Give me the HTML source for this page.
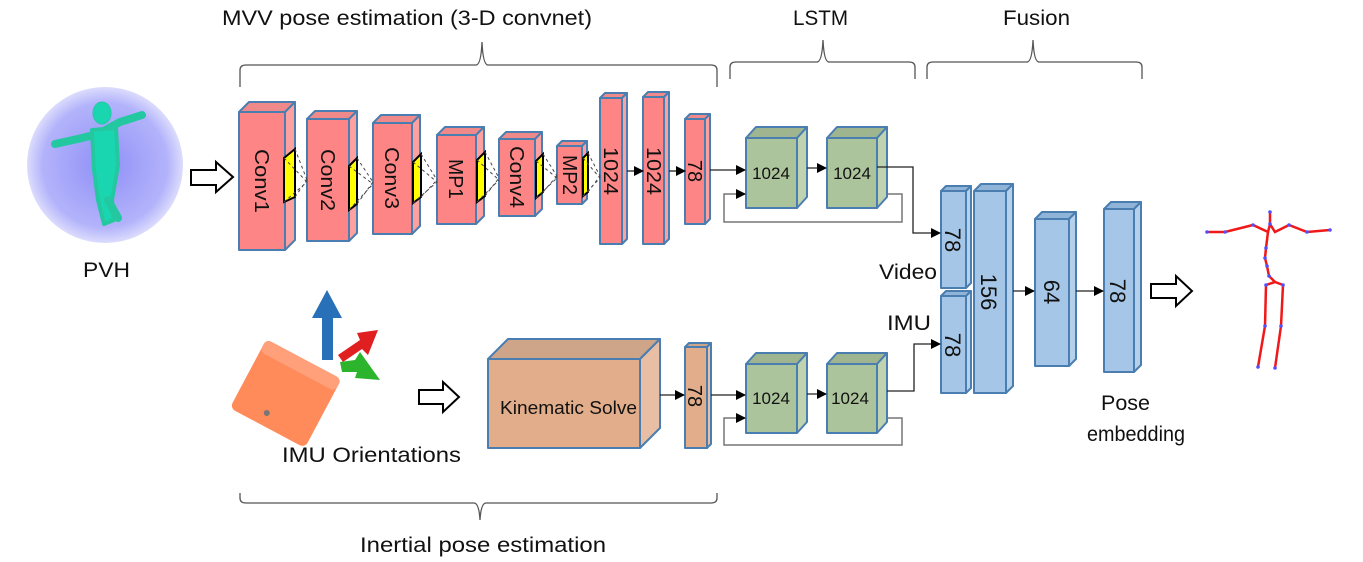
<!DOCTYPE html>
<html><head><meta charset="utf-8"><style>
html,body{margin:0;padding:0;background:#fff;}
svg{display:block;}
text{font-family:"Liberation Sans",sans-serif;fill:#111;}
</style></head><body>
<svg width="1363" height="562" viewBox="0 0 1363 562" xmlns="http://www.w3.org/2000/svg">
<defs>
<marker id="ar" markerWidth="10" markerHeight="10" refX="9" refY="5" orient="auto" markerUnits="userSpaceOnUse">
<path d="M0,0 L10,5 L0,10 z" fill="#000"/></marker>
<radialGradient id="pg" cx="50%" cy="50%" r="50%">
<stop offset="0" stop-color="#8f8ff7"/><stop offset="0.8" stop-color="#b3b3fb"/><stop offset="1" stop-color="#dcdcfd"/></radialGradient>
</defs>

<!-- titles -->
<text x="222" y="25" font-size="21" textLength="370" lengthAdjust="spacingAndGlyphs">MVV pose estimation (3-D convnet)</text>
<text x="793" y="25" font-size="21" textLength="55" lengthAdjust="spacingAndGlyphs">LSTM</text>
<text x="1003" y="25" font-size="21" textLength="67" lengthAdjust="spacingAndGlyphs">Fusion</text>
<text x="360" y="552" font-size="21" textLength="246" lengthAdjust="spacingAndGlyphs">Inertial pose estimation</text>

<!-- brackets -->
<g fill="none" stroke="#555" stroke-width="1.3">
<path d="M240,87 L240,70 Q240,65 246,65 L476,65 Q481,65 482,42 Q483,65 488,65 L711,65 Q717,65 717,70 L717,87"/>
<path d="M730,79 L730,67 Q730,62 736,62 L817,62 Q822,62 823,40 Q824,62 829,62 L909,62 Q915,62 915,67 L915,79"/>
<path d="M927,79 L927,67 Q927,62 933,62 L1027,62 Q1032,62 1033,40 Q1034,62 1039,62 L1136,62 Q1142,62 1142,67 L1142,79"/>
<path d="M240,493 L240,498 Q240,503 246,503 L474,503 Q479,503 480,520 Q481,503 486,503 L711,503 Q717,503 717,498 L717,493"/>
</g>

<!-- PVH -->
<circle cx="105" cy="165" r="78" fill="url(#pg)"/>
<g fill="#1ad6b0" stroke="#23c8a0" stroke-linecap="round" stroke-linejoin="round">
<path d="M55,144 L82,138 L98,134 L120,122 L142,115" fill="none" stroke-width="8"/>
<ellipse cx="102" cy="113" rx="9" ry="11"/>
<path d="M92,130 L116,128 L118,165 L112,200 L114,220 L104,224 L98,200 L94,170 Z" stroke-width="4"/>
<path d="M108,200 L118,218" fill="none" stroke-width="8"/>
</g>
<text x="83" y="277" font-size="21" textLength="47" lengthAdjust="spacingAndGlyphs">PVH</text>

<!-- hollow arrows -->
<g fill="#fff" stroke="#000" stroke-width="2">
<path d="M191,170 L216,170 L216,162 L233,177 L216,192 L216,185 L191,185 Z"/>
<path d="M419,390 L443,390 L443,382 L459,397 L443,412 L443,404 L419,404 Z"/>
<path d="M1151,284 L1176,284 L1176,276 L1192,291 L1176,306 L1176,298 L1151,298 Z"/>
</g>

<!-- IMU sensor -->
<g transform="rotate(28 285 400)">
<rect x="240" y="355" width="85" height="78" rx="6" fill="#ff8a5a"/>
<rect x="240" y="355" width="85" height="14" rx="5" fill="#ffa07a"/>
<circle cx="275" cy="420" r="3" fill="#777"/>
</g>
<polygon points="327,290 342,318 333,318 333,360 322,360 322,318 312,318" fill="#2870b8"/>
<polygon points="338,355 360,340 357,333 378,330 368,355 362,349 343,362" fill="#e02020"/>
<polygon points="340,362 355,360 360,352 380,380 355,378 357,372 342,372" fill="#2cb52c"/>
<text x="282" y="462" font-size="21" textLength="179" lengthAdjust="spacingAndGlyphs">IMU Orientations</text>

<g stroke="#4a7eb0" stroke-width="2" stroke-linejoin="round">
<g>
<polygon points="239,112 249,102 295,102 285,112" fill="#f08a8a"/><polygon points="285,112 295,102 295,240 285,250" fill="#fca0a0"/><rect x="239" y="112" width="46" height="138" fill="#fd8585"/>
<polygon points="307,119 315,111 357,111 349,119" fill="#f08a8a"/><polygon points="349,119 357,111 357,233 349,241" fill="#fca0a0"/><rect x="307" y="119" width="42" height="122" fill="#fd8585"/>
<polygon points="373,123 381,115 420,115 412,123" fill="#f08a8a"/><polygon points="412,123 420,115 420,226 412,234" fill="#fca0a0"/><rect x="373" y="123" width="39" height="111" fill="#fd8585"/>
<polygon points="437,135 445,127 484,127 476,135" fill="#f08a8a"/><polygon points="476,135 484,127 484,216 476,224" fill="#fca0a0"/><rect x="437" y="135" width="39" height="89" fill="#fd8585"/>
<polygon points="499,139 506,132 542,132 535,139" fill="#f08a8a"/><polygon points="535,139 542,132 542,209 535,216" fill="#fca0a0"/><rect x="499" y="139" width="36" height="77" fill="#fd8585"/>
<polygon points="557,146 562,141 587,141 582,146" fill="#f08a8a"/><polygon points="582,146 587,141 587,199 582,204" fill="#fca0a0"/><rect x="557" y="146" width="25" height="58" fill="#fd8585"/>
<polygon points="600,98 605,93 627,93 622,98" fill="#f08a8a"/><polygon points="622,98 627,93 627,239 622,244" fill="#fca0a0"/><rect x="600" y="98" width="22" height="146" fill="#fd8585"/>
<polygon points="643,97 648,92 669,92 664,97" fill="#f08a8a"/><polygon points="664,97 669,92 669,239 664,244" fill="#fca0a0"/><rect x="643" y="97" width="21" height="147" fill="#fd8585"/>
<polygon points="685,119 690,114 710,114 705,119" fill="#f08a8a"/><polygon points="705,119 710,114 710,219 705,224" fill="#fca0a0"/><rect x="685" y="119" width="20" height="105" fill="#fd8585"/>
</g>
<polygon points="488,359 508,339 660,339 640,359" fill="#cfa58a"/><polygon points="640,359 660,339 660,428 640,448" fill="#e8bea5"/><rect x="488" y="359" width="152" height="89" fill="#e2ad8a"/>
<polygon points="685,347 689,343 711,343 707,347" fill="#cfa58a"/><polygon points="707,347 711,343 711,444 707,448" fill="#e8bea5"/><rect x="685" y="347" width="22" height="101" fill="#e2ad8a"/>
<polygon points="746,138 756,127 807,127 797,138" fill="#9fb590"/><polygon points="797,138 807,127 807,197 797,208" fill="#bfd3b0"/><rect x="746" y="138" width="51" height="70" fill="#acc49b"/>
<polygon points="827,138 837,127 887,127 877,138" fill="#9fb590"/><polygon points="877,138 887,127 887,197 877,208" fill="#bfd3b0"/><rect x="827" y="138" width="50" height="70" fill="#acc49b"/>
<polygon points="746,364 756,353 807,353 797,364" fill="#9fb590"/><polygon points="797,364 807,353 807,422 797,433" fill="#bfd3b0"/><rect x="746" y="364" width="51" height="69" fill="#acc49b"/>
<polygon points="827,364 837,353 887,353 877,364" fill="#9fb590"/><polygon points="877,364 887,353 887,422 877,433" fill="#bfd3b0"/><rect x="827" y="364" width="50" height="69" fill="#acc49b"/>
<polygon points="941,191 946,186 971,186 966,191" fill="#8fb4d8"/><polygon points="966,191 971,186 971,283 966,288" fill="#b5d0ea"/><rect x="941" y="191" width="25" height="97" fill="#a5c6e6"/>
<polygon points="941,296 946,291 971,291 966,296" fill="#8fb4d8"/><polygon points="966,296 971,291 971,388 966,393" fill="#b5d0ea"/><rect x="941" y="296" width="25" height="97" fill="#a5c6e6"/>
<polygon points="974,191 981,184 1013,184 1006,191" fill="#8fb4d8"/><polygon points="1006,191 1013,184 1013,386 1006,393" fill="#b5d0ea"/><rect x="974" y="191" width="32" height="202" fill="#a5c6e6"/>
<polygon points="1035,219 1042,212 1076,212 1069,219" fill="#8fb4d8"/><polygon points="1069,219 1076,212 1076,359 1069,366" fill="#b5d0ea"/><rect x="1035" y="219" width="34" height="147" fill="#a5c6e6"/>
<polygon points="1104,209 1111,202 1141,202 1134,209" fill="#8fb4d8"/><polygon points="1134,209 1141,202 1141,365 1134,372" fill="#b5d0ea"/><rect x="1104" y="209" width="30" height="163" fill="#a5c6e6"/>
</g>

<g stroke="#000" stroke-width="2" fill="#ffff00">
<polygon points="284,158 295,149 295,197 284,202"/>
<polygon points="349,166 357,158 357,204 349,210"/>
<polygon points="413,162 421,154 421,197 413,203"/>
<polygon points="477,160 485,152 485,196 477,202"/>
<polygon points="536,161 543,154 543,192 536,198"/>
<polygon points="583,158 588,153 588,192 583,196"/>
</g>
<g stroke="#444" stroke-width="1" stroke-dasharray="3,3" fill="none">
<path d="M295,149 L307,180 M295,197 L307,180 M284,158 L307,182 M284,202 L307,182"/>
<path d="M357,158 L373,182 M357,204 L373,182 M349,166 L373,184 M349,210 L373,184"/>
<path d="M421,154 L437,180 M421,197 L437,180 M413,162 L437,182 M413,203 L437,182"/>
<path d="M485,152 L499,178 M485,196 L499,178 M477,160 L499,180 M477,202 L499,180"/>
<path d="M543,154 L557,176 M543,192 L557,176 M536,161 L557,178 M536,198 L557,178"/>
<path d="M588,153 L600,176 M588,192 L600,176 M583,158 L600,178 M583,196 L600,178"/>
</g>

<g stroke="#222" stroke-width="1.3" fill="none" marker-end="url(#ar)">
<path d="M627,171 L643,171"/>
<path d="M669,171 L685,171"/>
<path d="M710,170 L745,170"/>
<path d="M807,168 L826,168"/>
<path d="M877,167 L913,167 L913,233 L940,233"/>
<path d="M660,395 L684,395"/>
<path d="M711,395 L745,395"/>
<path d="M807,394 L826,394"/>
<path d="M887,391 L914,391 L914,344 L940,344"/>
<path d="M1013,291 L1034,291"/>
<path d="M1076,291 L1103,291"/>
</g>
<g stroke="#777" stroke-width="1.5" fill="none" marker-end="url(#ar)">
<path d="M887,194 L902,194 L902,222 L724,222 L724,194 L745,194"/>
<path d="M887,418 L902,418 L902,445 L724,445 L724,418 L745,418"/>
</g>

<g font-size="20">
<text transform="translate(255,181) rotate(90)" text-anchor="middle" textLength="64" lengthAdjust="spacingAndGlyphs">Conv1</text>
<text transform="translate(321,180) rotate(90)" text-anchor="middle" textLength="62" lengthAdjust="spacingAndGlyphs">Conv2</text>
<text transform="translate(385,178) rotate(90)" text-anchor="middle" textLength="62" lengthAdjust="spacingAndGlyphs">Conv3</text>
<text transform="translate(449,179) rotate(90)" text-anchor="middle" textLength="40" lengthAdjust="spacingAndGlyphs">MP1</text>
<text transform="translate(510,177) rotate(90)" text-anchor="middle" textLength="62" lengthAdjust="spacingAndGlyphs">Conv4</text>
<text transform="translate(563,175) rotate(90)" text-anchor="middle" textLength="40" lengthAdjust="spacingAndGlyphs">MP2</text>
<text transform="translate(604,171) rotate(90)" text-anchor="middle" textLength="48" lengthAdjust="spacingAndGlyphs">1024</text>
<text transform="translate(647,171) rotate(90)" text-anchor="middle" textLength="48" lengthAdjust="spacingAndGlyphs">1024</text>
<text transform="translate(688,171) rotate(90)" text-anchor="middle">78</text>
<text transform="translate(688,396) rotate(90)" text-anchor="middle">78</text>
</g>
<g font-size="22">
<text transform="translate(945,240) rotate(90)" text-anchor="middle">78</text>
<text transform="translate(945,345) rotate(90)" text-anchor="middle">78</text>
<text transform="translate(981,292) rotate(90)" text-anchor="middle">156</text>
<text transform="translate(1044,292) rotate(90)" text-anchor="middle">64</text>
<text transform="translate(1110,291) rotate(90)" text-anchor="middle">78</text>
</g>
<g font-size="17" text-anchor="middle">
<text x="771" y="179">1024</text><text x="852" y="179">1024</text>
<text x="771" y="404">1024</text><text x="850" y="404">1024</text>
</g>
<text x="500" y="414" font-size="18" textLength="137" lengthAdjust="spacingAndGlyphs">Kinematic Solve</text>
<text x="879" y="279" font-size="21" textLength="58" lengthAdjust="spacingAndGlyphs">Video</text>
<text x="887" y="330" font-size="21" textLength="44" lengthAdjust="spacingAndGlyphs">IMU</text>
<text x="1101" y="410" font-size="21" textLength="49" lengthAdjust="spacingAndGlyphs">Pose</text>
<text x="1087" y="441" font-size="21" textLength="98" lengthAdjust="spacingAndGlyphs">embedding</text>

<g stroke="#f01818" stroke-width="2.5" fill="none" stroke-linecap="round">
<path d="M1270,212 L1270,224 L1268,232 L1253,225 L1225,232 L1207,232"/>
<path d="M1270,224 L1275,232 L1289,225 L1307,232 L1330,230"/>
<path d="M1268,232 L1266,248 L1265,258 L1267,266 L1269,276 L1275,282 L1266,285 L1265,326 L1258,367"/>
<path d="M1275,282 L1283,285 L1281,326 L1275,368"/>
</g>
<g fill="#5050ff">
<circle cx="1270" cy="212" r="1.8"/><circle cx="1270" cy="224" r="1.8"/><circle cx="1253" cy="225" r="1.8"/><circle cx="1225" cy="232" r="1.8"/><circle cx="1207" cy="232" r="1.8"/><circle cx="1289" cy="225" r="1.8"/><circle cx="1307" cy="232" r="1.8"/><circle cx="1330" cy="230" r="1.8"/><circle cx="1266" cy="248" r="1.8"/><circle cx="1265" cy="258" r="1.8"/><circle cx="1267" cy="266" r="1.8"/><circle cx="1269" cy="276" r="1.8"/><circle cx="1266" cy="285" r="1.8"/><circle cx="1283" cy="285" r="1.8"/><circle cx="1265" cy="326" r="1.8"/><circle cx="1281" cy="326" r="1.8"/><circle cx="1258" cy="367" r="1.8"/><circle cx="1275" cy="368" r="1.8"/>
</g>
</svg>
</body></html>
